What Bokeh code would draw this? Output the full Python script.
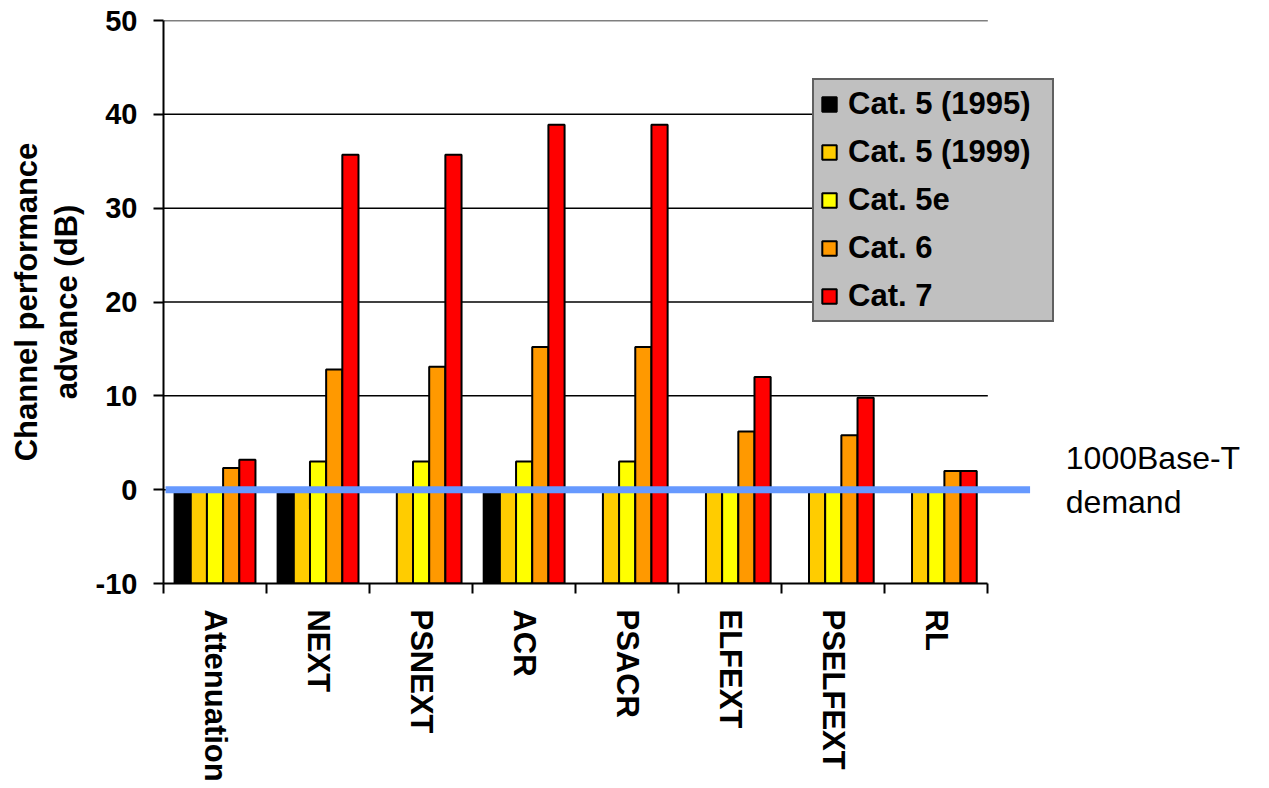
from bokeh.plotting import figure
from bokeh.models import ColumnDataSource, FixedTicker, Legend, LegendItem, Range1d
from bokeh.core.properties import value
from bokeh.embed import file_html
from bokeh.resources import INLINE

# ---------------- data ----------------
categories = ["Attenuation", "NEXT", "PSNEXT", "ACR", "PSACR", "ELFEXT", "PSELFEXT", "RL"]
series_names = ["Cat. 5 (1995)", "Cat. 5 (1999)", "Cat. 5e", "Cat. 6", "Cat. 7"]
cat5_1995 = [0, 0, None, 0, None, None, None, None]
cat5_1999 = [0, 0, 0, 0, 0, 0, 0, 0]
cat5e = [0, 3, 3, 3, 3, 0, 0, 0]
cat6 = [2.3, 12.8, 13.1, 15.2, 15.2, 6.2, 5.8, 2.0]
cat7 = [3.2, 35.7, 35.7, 38.9, 38.9, 12.0, 9.8, 2.0]
series_values = [cat5_1995, cat5_1999, cat5e, cat6, cat7]
colors = ["#000000", "#FFCC00", "#FFFF00", "#FF9900", "#FF0000"]
y_ticks = [-10, 0, 10, 20, 30, 40, 50]
y_tick_labels = {-10: "-10"}
grid_levels = [0, 10, 20, 30, 40, 50]
y_min, y_max = -10, 50
demand_level = 0
demand_lines = ["1000Base-T", "demand"]
demand_line_extent = (0.02, 8.41)
demand_text_x = 8.757
demand_text_y = [3.4, -1.3]

FONT = "Liberation Sans"
n_cat = len(categories)
bar_w = 0.157
W, H = 1266, 786
LEFT = 163
x_end = (W - LEFT) / 103.04

p = figure(width=W, height=H, x_range=Range1d(0, x_end), y_range=Range1d(y_min, y_max),
           output_backend="svg", toolbar_location=None,
           min_border_left=LEFT, min_border_right=0, min_border_top=20, min_border_bottom=203)
p.outline_line_color = None
p.xgrid.visible = False
p.ygrid.visible = False
p.background_fill_color = "white"
p.border_fill_color = "white"

# gridlines limited to the category span
p.segment(x0=[0] * len(grid_levels), x1=[n_cat] * len(grid_levels), y0=grid_levels, y1=grid_levels,
          line_color="black", line_width=1.5)

# bars
renderers = []
for i, (name, vals, col) in enumerate(zip(series_names, series_values, colors)):
    off = (i - 2) * bar_w
    xs = [j + 0.5 + off for j, v in enumerate(vals) if v is not None]
    tops = [v for v in vals if v is not None]
    src = ColumnDataSource(dict(x=xs, top=tops))
    r = p.vbar(x="x", top="top", bottom=y_min, width=bar_w, source=src,
               fill_color=col, line_color="black", line_width=2)
    renderers.append(r)

# demand line
p.segment(x0=[demand_line_extent[0]], x1=[demand_line_extent[1]], y0=[demand_level], y1=[demand_level],
          line_color="#6699FF", line_width=7)

p.text(x=[demand_text_x] * 2, y=demand_text_y, text=demand_lines,
       text_font=value(FONT), text_font_size="32px", text_align="left",
       text_baseline="alphabetic", text_color="black")

# x axis
xa = p.xaxis[0]
xa.ticker = FixedTicker(ticks=[j + 0.5 for j in range(n_cat)], minor_ticks=list(range(n_cat + 1)))
xa.major_label_overrides = {j + 0.5: c for j, c in enumerate(categories)}
xa.bounds = (0, n_cat)
xa.major_label_orientation = "vertical"
xa.major_label_text_font = FONT
xa.major_label_text_font_size = "31px"
xa.major_label_text_font_style = "bold"
xa.major_label_text_color = "black"
xa.major_label_standoff = 16
xa.major_tick_out = 0
xa.major_tick_in = 0
xa.minor_tick_out = 10
xa.minor_tick_in = 0
xa.minor_tick_line_width = 2
xa.minor_tick_line_color = "black"
xa.axis_line_width = 2
xa.axis_line_color = "black"

# y axis
ya = p.yaxis[0]
ya.ticker = FixedTicker(ticks=y_ticks)
ya.major_label_overrides = y_tick_labels
ya.major_label_text_font = FONT
ya.major_label_text_font_size = "29px"
ya.major_label_text_font_style = "bold"
ya.major_label_text_color = "black"
ya.major_label_standoff = 16
ya.major_tick_out = 10
ya.major_tick_in = 0
ya.major_tick_line_width = 2
ya.minor_tick_line_color = None
ya.axis_line_width = 2
ya.axis_line_color = "black"
ya.axis_label = "Channel performance\nadvance (dB)"
ya.axis_label_text_font = FONT
ya.axis_label_text_font_size = "31px"
ya.axis_label_text_font_style = "bold"
ya.axis_label_text_color = "black"
ya.axis_label_text_line_height = 1.12
ya.axis_label_standoff = 9

legend = Legend(items=[LegendItem(label=n, renderers=[r]) for n, r in zip(series_names, renderers)],
                location=(812 - LEFT, 261))
legend.label_text_font = FONT
legend.label_text_font_size = "31px"
legend.label_text_font_style = "bold"
legend.label_text_color = "black"
legend.label_height = 36
legend.label_width = 198
legend.glyph_width = 18
legend.glyph_height = 18
legend.label_standoff = 10
legend.padding = 6
legend.spacing = 12
legend.margin = 0
legend.background_fill_color = "#C0C0C0"
legend.background_fill_alpha = 1
legend.border_line_color = "black"
legend.border_line_width = 2.5
p.add_layout(legend)

open("out.html", "w").write(file_html(p, INLINE))
